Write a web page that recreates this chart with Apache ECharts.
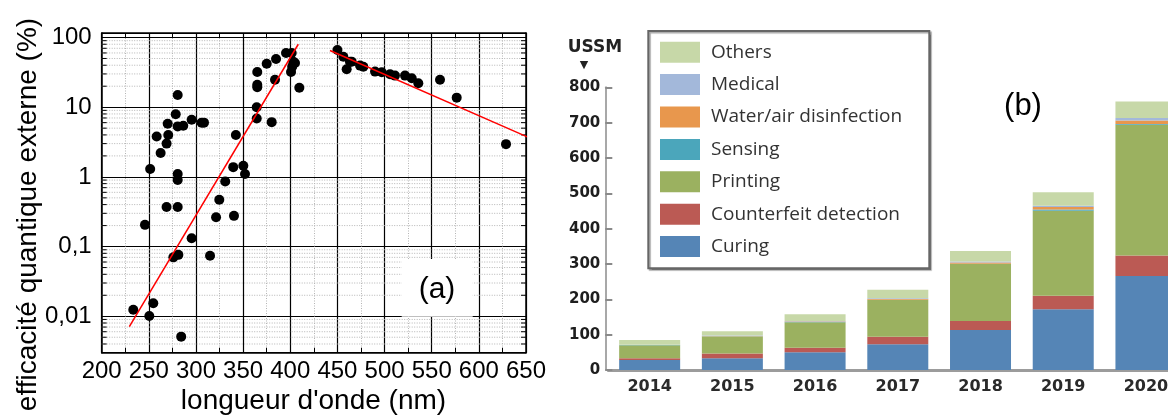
<!DOCTYPE html>
<html>
<head>
<meta charset="utf-8">
<script src="https://cdn.jsdelivr.net/npm/echarts@6/dist/echarts.min.js"></script>
<style>
html,body{margin:0;padding:0;background:#fff;}
#chart{width:1168px;height:417px;}
</style>
</head>
<body>
<div id="chart"></div>
<script>
// ---------- Panel (a): external quantum efficiency vs wavelength ----------
const wavelengthNm = [
  233.5, 245.9, 250.5, 251.4, 254.7,
  258.3, 262.5, 268.8, 270.6, 270, 280.6, 278.5, 280.6, 286.5, 295.4, 306, 308.5,
  280.6, 280.6, 268.8, 280.6, 295.4, 276, 281.3, 284.3,
  314.9, 321.3, 324.7, 331, 339.5, 340.3, 342.3, 350.2, 352,
  364.4, 364.4, 365, 365, 365, 375, 380.3, 384.9, 383.8, 395.5, 401.5, 403.2, 400.8, 405, 402, 409.6,
  450, 456.3, 459.8, 463.3, 465.1, 474, 477.5, 489.9, 497, 505.8, 511, 521.7, 528.8, 535.8, 558.8, 576.5, 628.8
];
const eqePercent = [
  0.0124, 0.205, 0.0101, 1.3, 0.0154,
  3.8, 2.2, 3.0, 4.0, 5.8, 15, 7.9, 5.3, 5.4, 6.6, 6.0, 6.0,
  1.1, 0.9, 0.37, 0.37, 0.132, 0.070, 0.076, 0.0051,
  0.074, 0.264, 0.47, 0.86, 1.38, 0.276, 4.0, 1.44, 1.1,
  6.9, 10, 19.4, 21, 32, 42, 6.1, 49, 24.7, 60, 60, 45, 32, 43, 38, 19,
  66, 53, 35, 45, 45, 39.5, 38, 32.4, 31.8, 29.7, 28.4, 28.4, 26, 22, 24.7, 13.7, 2.95
];
const fit1X = [229.3, 408.5];
const fit1Y = [0.0071, 80];
const fit2X = [442.1, 652];
const fit2Y = [65, 3.72];
const yMajorValues = [0.01, 0.1, 1, 10, 100];
const yMajorLabels = ['0,01', '0,1', '1', '10', '100'];

// ---------- Panel (b): UV LED market (US$M) ----------
const years = ['2014', '2015', '2016', '2017', '2018', '2019', '2020'];
const curing      = [28, 33, 50, 73, 113, 172, 266];
const counterfeit = [5, 14, 13, 21, 26, 38, 58];
const printing    = [37, 48, 72, 104, 161, 241, 370];
const sensing     = [0.5, 0.5, 1, 1, 1, 3, 2];
const water       = [0.5, 1, 1.5, 2, 3, 7, 10];
const medical     = [0.5, 1, 1.5, 2, 3, 4, 7];
const others      = [13.5, 12.5, 19, 24, 30, 38, 47];
const barTicks = [0, 100, 200, 300, 400, 500, 600, 700, 800];

// ---------- build ----------
const scatterData = wavelengthNm.map((x, i) => [x, eqePercent[i]]);
const fit1 = fit1X.map((x, i) => [x, fit1Y[i]]);
const fit2 = fit2X.map((x, i) => [x, fit2Y[i]]);

const yMin = 0.003, yMax = 116;
const minorVals = [];
for (let n = -3; n <= 2; n++) {
  for (let k = 2; k <= 9; k++) {
    const v = k * Math.pow(10, n);
    if (v > yMin * 1.0001 && v < yMax) minorVals.push([200, v]);
  }
}

function majorLabel(v) {
  const l = Math.log10(v);
  const r = Math.round(l);
  if (Math.abs(l - r) > 1e-6) return '';
  const idx = yMajorValues.findIndex(m => Math.abs(Math.log10(m) - r) < 1e-6);
  return idx >= 0 ? yMajorLabels[idx] : '';
}

const LF = 'Liberation Sans, Arial, sans-serif';
const BF = 'DejaVu Sans, sans-serif';

const chart = echarts.init(document.getElementById('chart'), null, {renderer: 'canvas'});

const barSeriesDef = [
  ['Curing', curing, '#5585b6'],
  ['Counterfeit detection', counterfeit, '#bb5a54'],
  ['Printing', printing, '#9bb160'],
  ['Sensing', sensing, '#4ba6bb'],
  ['Water/air disinfection', water, '#e8974d'],
  ['Medical', medical, '#a3b8da'],
  ['Others', others, '#c7d8a8']
];

const option = {
  animation: false,
  backgroundColor: '#fff',
  grid: [
    {left: 101.7, top: 33, width: 424.3, height: 319.7, outerBoundsMode: 'none', containLabel: false},
    {left: 608.3, top: 87.3, width: 579, height: 282.7, outerBoundsMode: 'none', containLabel: false}
  ],
  xAxis: [
    {
      gridIndex: 0, type: 'value', min: 200, max: 650, interval: 50, position: 'bottom',
      axisLine: {show: true, onZero: false, lineStyle: {color: '#000', width: 1.5}},
      axisTick: {show: true, inside: true, length: 6, lineStyle: {color: '#000', width: 1}},
      minorTick: {show: true, splitNumber: 2, length: 5, lineStyle: {color: '#000', width: 1}},
      splitLine: {show: true, lineStyle: {color: '#000', width: 1.2}},
      minorSplitLine: {show: true, lineStyle: {color: '#b5b5b5', width: 1, type: [1, 1.5]}},
      axisLabel: {fontFamily: LF, fontSize: 24, color: '#000', margin: 7}
    },
    {
      gridIndex: 0, type: 'value', min: 200, max: 650, interval: 50, position: 'top',
      axisLine: {show: true, onZero: false, lineStyle: {color: '#000', width: 1.5}},
      axisTick: {show: true, inside: true, length: 6, lineStyle: {color: '#000', width: 1}},
      minorTick: {show: true, splitNumber: 2, length: 5, lineStyle: {color: '#000', width: 1}},
      splitLine: {show: false},
      axisLabel: {show: false}
    },
    {
      gridIndex: 1, type: 'category', data: years,
      axisLine: {show: true, lineStyle: {color: '#9c9c9c', width: 3}},
      axisTick: {show: false},
      axisLabel: {fontFamily: BF, fontWeight: 'bold', fontSize: 16, color: '#2a2a2a', margin: 9}
    }
  ],
  yAxis: [
    {
      gridIndex: 0, type: 'log', logBase: 10, min: yMin, max: yMax,
      axisLine: {show: true, lineStyle: {color: '#000', width: 1.5}},
      axisTick: {show: true, inside: true, length: 6, lineStyle: {color: '#000'}},
      splitLine: {show: true, lineStyle: {color: '#000', width: 1.2}},
      axisLabel: {fontFamily: LF, fontSize: 24, color: '#000', margin: 10, formatter: majorLabel,
                  showMinLabel: true, showMaxLabel: true}
    },
    {
      gridIndex: 0, type: 'log', logBase: 10, min: yMin, max: yMax, position: 'right',
      axisLine: {show: true, lineStyle: {color: '#000', width: 1.5}},
      axisTick: {show: true, inside: true, length: 6, lineStyle: {color: '#000'}},
      splitLine: {show: false},
      axisLabel: {show: false}
    },
    {
      gridIndex: 1, type: 'value', min: 0, max: 800, interval: 100, offset: 3,
      axisLine: {show: true, lineStyle: {color: '#a8a8a8', width: 2}},
      axisTick: {show: true, inside: true, length: 7, lineStyle: {color: '#8a8a8a', width: 2}},
      splitLine: {show: false},
      axisLabel: {fontFamily: BF, fontWeight: 'bold', fontSize: 15, color: '#1e1e1e', margin: 5,
                  formatter: v => String(barTicks[barTicks.indexOf(v)])}
    }
  ],
  legend: {
    orient: 'vertical', left: 660, top: 41.7, padding: 0,
    itemWidth: 40, itemHeight: 21, itemGap: 11.4, icon: 'rect',
    selectedMode: false,
    data: ['Others', 'Medical', 'Water/air disinfection', 'Sensing', 'Printing', 'Counterfeit detection', 'Curing'],
    textStyle: {fontFamily: 'Open Sans, sans-serif', fontSize: 19, color: '#333', padding: [0, 0, 0, 6]}
  },
  series: [
    {
      type: 'custom', xAxisIndex: 0, yAxisIndex: 0, z: 1, silent: true,
      data: minorVals, encode: {x: 0, y: 1},
      renderItem: function (params, api) {
        const v = api.value(1);
        const a = api.coord([200, v]);
        const b = api.coord([650, v]);
        return {
          type: 'group',
          children: [
            {type: 'line', shape: {x1: a[0], y1: a[1], x2: b[0], y2: b[1]},
             style: {stroke: '#b5b5b5', lineWidth: 1, lineDash: [1, 1.5]}},
            {type: 'line', shape: {x1: a[0], y1: a[1], x2: a[0] + 5, y2: a[1]},
             style: {stroke: '#000', lineWidth: 1}},
            {type: 'line', shape: {x1: b[0] - 5, y1: b[1], x2: b[0], y2: b[1]},
             style: {stroke: '#000', lineWidth: 1}}
          ]
        };
      }
    },
    {
      type: 'scatter', xAxisIndex: 0, yAxisIndex: 0, z: 3,
      data: scatterData, symbol: 'circle', symbolSize: 10,
      itemStyle: {color: '#000', opacity: 1}
    },
    {
      type: 'line', xAxisIndex: 0, yAxisIndex: 0, z: 4, data: fit1, showSymbol: false, clip: false,
      lineStyle: {color: '#ff0000', width: 1.5}
    },
    {
      type: 'line', xAxisIndex: 0, yAxisIndex: 0, z: 4, data: fit2, showSymbol: false, clip: false,
      lineStyle: {color: '#ff0000', width: 1.5}
    }
  ].concat(barSeriesDef.map(([name, data, color]) => ({
    name: name, type: 'bar', xAxisIndex: 2, yAxisIndex: 2, stack: 'market',
    data: data, barWidth: 61, itemStyle: {color: color}
  }))),
  graphic: [
    {type: 'rect', z: 10, shape: {x: 401.7, y: 259, width: 71, height: 57.7}, style: {fill: '#fff'}},
    {type: 'text', z: 11, x: 437, y: 290, style: {text: '(a)', font: '30px ' + LF, fill: '#000', textAlign: 'center', textVerticalAlign: 'middle'}},
    {type: 'text', z: 11, x: 28, y: 214.5, rotation: Math.PI / 2,
     style: {text: 'efficacité quantique externe (%)', font: '28px ' + LF, fill: '#000', textAlign: 'center', textVerticalAlign: 'middle'}},
    {type: 'text', z: 11, x: 313.5, y: 401, style: {text: "longueur d'onde (nm)", font: '28px ' + LF, fill: '#000', textAlign: 'center', textVerticalAlign: 'middle'}},
    {type: 'rect', z: 0, shape: {x: 648.3, y: 31, width: 281, height: 237.3},
     style: {fill: '#fff', stroke: '#666', lineWidth: 2, shadowColor: 'rgba(0,0,0,0.35)', shadowOffsetX: 1.5, shadowOffsetY: 1.5, shadowBlur: 1}},
    {type: 'text', z: 11, x: 595, y: 47.5, style: {text: 'USSM', font: 'bold 17px ' + BF, fill: '#222', textAlign: 'center', textVerticalAlign: 'middle'}},
    {type: 'text', z: 11, x: 584, y: 65, style: {text: '▼', font: '11px ' + BF, fill: '#222', textAlign: 'center', textVerticalAlign: 'middle'}},
    {type: 'text', z: 11, x: 1023, y: 106.7, style: {text: '(b)', font: '31px ' + LF, fill: '#000', textAlign: 'center', textVerticalAlign: 'middle'}}
  ]
};
chart.setOption(option);
</script>
</body>
</html>
